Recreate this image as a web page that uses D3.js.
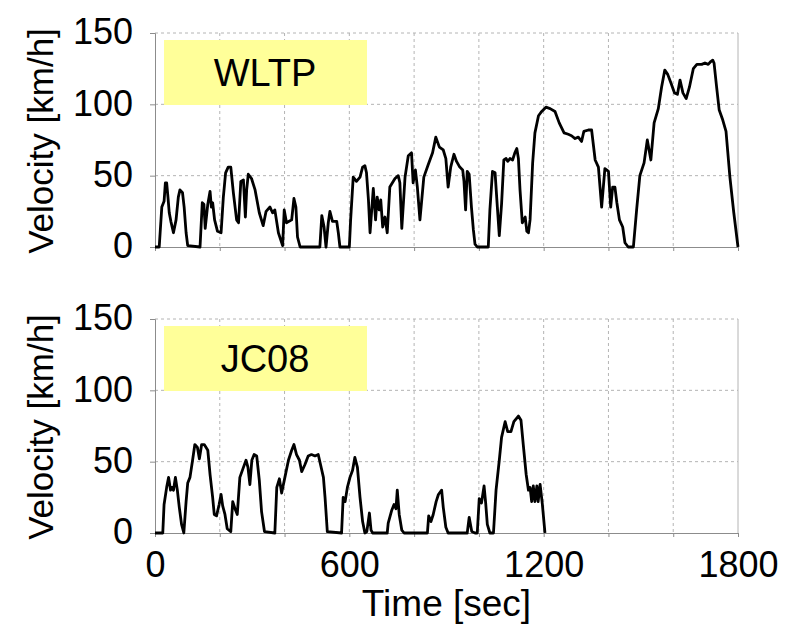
<!DOCTYPE html>
<html>
<head>
<meta charset="utf-8">
<script src="https://cdn.jsdelivr.net/npm/d3@7"></script>
<style>
  body { margin: 0; background: #fff; }
  text { font-family: Arial, "Liberation Sans", sans-serif; fill: #000; }
</style>
</head>
<body>
<svg id="chart" width="790" height="629"></svg>
<script>
// WLTP cycle (sec, km/h)
const wltpTime = [0,13,21,28,32,36,40,44,49,57,65,72,77,85,90,96,101,139,146,151,155,163,170,174,178,184,193,204,211,218,226,234,242,252,258,265,273,279,283,288,298,309,322,334,343,355,363,370,381,394,399,406,414,422,429,435,440,448,509,515,522,528,535,540,548,561,566,571,600,604,612,622,633,641,648,653,659,664,674,681,686,692,697,703,710,717,725,741,751,756,762,772,782,792,797,804,810,818,830,844,857,867,878,890,898,905,913,923,931,941,950,954,959,964,970,977,983,988,995,1029,1034,1042,1050,1057,1063,1070,1077,1084,1089,1096,1104,1111,1117,1122,1127,1134,1143,1148,1153,1158,1166,1173,1184,1194,1207,1220,1235,1248,1263,1276,1286,1297,1307,1317,1324,1338,1348,1359,1369,1379,1389,1400,1407,1413,1420,1426,1434,1444,1451,1461,1477,1487,1497,1510,1520,1531,1541,1554,1564,1574,1583,1593,1604,1613,1621,1630,1640,1650,1662,1673,1688,1698,1708,1716,1722,1726,1734,1742,1753,1763,1775,1787,1800];
const wltpSpeed = [0,0,28,32,45,45,35,24,18,10,19,35,40,38,28,10,1,0,31,30,13,30,39,28,31,19,11,10,35,52,56,56,38,19,17,46,47,21,40,51,48,40,24,15,25,28,24,26,10,1,26,17,18,19,34,28,7,0,0,22,14,0,17,25,18,18,10,0,0,19,49,46,49,56,57,52,33,10,41,19,35,26,33,14,21,10,42,48,50,45,13,49,64,66,45,54,42,19,49,58,66,77,70,68,62,42,56,65,60,56,54,46,26,53,51,28,12,2,0,0,26,53,52,28,8,30,61,62,60,62,61,66,69,62,40,17,21,11,10,19,59,80,92,95,98,97,95,87,80,79,78,76,77,74,81,82,82,61,56,28,55,53,28,42,42,31,19,14,3,0,0,26,50,59,75,61,87,97,112,124,121,115,108,107,117,108,104,112,125,128,128,129,128,130,131,129,112,96,89,81,49,24,0];

// JC08 cycle
const jc08Time = [0,24,28,36,42,48,52,57,63,69,75,82,89,96,101,108,116,123,131,137,144,152,163,170,178,183,190,198,204,209,216,223,234,240,247,254,262,273,281,287,293,299,306,314,322,329,338,370,376,384,391,401,412,422,429,437,446,453,463,473,483,494,504,511,520,525,532,576,581,587,594,602,610,617,625,633,641,648,654,662,667,672,717,720,731,738,744,748,754,762,769,841,845,852,859,868,875,885,890,898,905,964,970,978,988,995,1001,1008,1016,1021,1026,1034,1045,1053,1063,1070,1081,1089,1099,1108,1122,1130,1137,1146,1153,1158,1163,1168,1173,1179,1183,1189,1196,1204];
const jc08Speed = [0,0,20,32,39,30,32,30,39,30,18,6,0,22,35,39,51,62,60,52,62,62,58,41,25,13,12,20,27,19,13,3,1,22,17,13,39,46,51,46,34,51,55,54,37,15,1,0,32,38,28,39,51,58,62,55,51,43,48,54,55,54,55,48,39,25,1,0,25,22,32,39,44,53,46,25,8,0,1,14,2,0,0,7,16,20,17,30,13,2,0,0,12,8,13,22,27,30,18,4,0,0,11,1,0,0,24,21,33,21,6,0,0,30,51,67,78,71,71,78,82,79,62,41,30,32,22,33,22,33,22,34,20,0];

const panelNames = ["WLTP", "JC08"];
const yTicks = [0, 50, 100, 150];
const xTicks = [0, 600, 1200, 1800];
const xGrid = [200, 400, 600, 800, 1000, 1200, 1400, 1600, 1800];

const svg = d3.select("#chart");
const left = 155, right = 738;
const panelTops = [33, 319], panelHeight = 214;
const fontSize = 35;
const axisColor = "#8c8c8c", gridColor = "#b4b4b4";

const x = d3.scaleLinear().domain([0, 1800]).range([left, right]);

const series = [
    { times: wltpTime, speeds: wltpSpeed },
    { times: jc08Time, speeds: jc08Speed }
];

series.forEach((s, i) => {
    const top = panelTops[i];
    const y = d3.scaleLinear().domain([0, 150]).range([top + panelHeight, top]);
    const g = svg.append("g");

    // dashed grid
    g.selectAll(".hgrid")
        .data(yTicks.filter(d => d > 0))
        .enter().append("line")
        .attr("x1", left).attr("x2", right)
        .attr("y1", d => y(d)).attr("y2", d => y(d))
        .attr("stroke", gridColor).attr("stroke-dasharray", "3,3");

    g.selectAll(".vgrid")
        .data(xGrid.filter(d => d < 1800))
        .enter().append("line")
        .attr("x1", d => x(d)).attr("x2", d => x(d))
        .attr("y1", top).attr("y2", top + panelHeight)
        .attr("stroke", gridColor).attr("stroke-dasharray", "3,3");

    // right border
    g.append("line")
        .attr("x1", right).attr("x2", right)
        .attr("y1", top).attr("y2", top + panelHeight)
        .attr("stroke", gridColor);

    // yellow name box
    g.append("rect")
        .attr("x", 164).attr("y", top + 7)
        .attr("width", 203).attr("height", 65)
        .attr("fill", "#ffff99");
    g.append("text")
        .attr("x", 265).attr("y", top + 40)
        .attr("dy", "0.35em")
        .attr("text-anchor", "middle")
        .style("font-size", "38px")
        .text(panelNames[i]);

    // axes
    const yAxis = g.append("g")
        .attr("transform", `translate(${left},0)`)
        .call(d3.axisLeft(y).tickValues(yTicks).tickSize(5).tickPadding(17));
    const xAxis = g.append("g")
        .attr("transform", `translate(0,${top + panelHeight})`)
        .call(d3.axisBottom(x).tickValues(xGrid.concat([0])).tickSize(4)
            .tickFormat(d => (i === 1 && xTicks.includes(d)) ? d : ""));

    [yAxis, xAxis].forEach(a => {
        a.selectAll("path, line").attr("stroke", axisColor);
        a.selectAll("text")
            .style("font-size", "36px")
            .style("font-family", "Arial, 'Liberation Sans', sans-serif")
            .attr("fill", "#000");
    });
    yAxis.selectAll("text").attr("dy", "0.3em");
    xAxis.selectAll("text").attr("dy", "1.02em");

    // velocity line
    const pts = s.times.map((t, k) => [t, s.speeds[k]]);
    g.append("path")
        .datum(pts)
        .attr("fill", "none")
        .attr("stroke", "#000")
        .attr("stroke-width", 2.8)
        .attr("stroke-linejoin", "round")
        .attr("d", d3.line().x(d => x(d[0])).y(d => y(d[1])));

    // y title
    svg.append("text")
        .attr("transform", `translate(53,${top + panelHeight / 2 + 1}) rotate(-90)`)
        .attr("text-anchor", "middle")
        .style("font-size", fontSize + "px")
        .text("Velocity [km/h]");
});

svg.append("text")
    .attr("x", (left + right) / 2)
    .attr("y", 616)
    .attr("text-anchor", "middle")
    .style("font-size", "37px")
    .text("Time [sec]");
</script>
</body>
</html>
